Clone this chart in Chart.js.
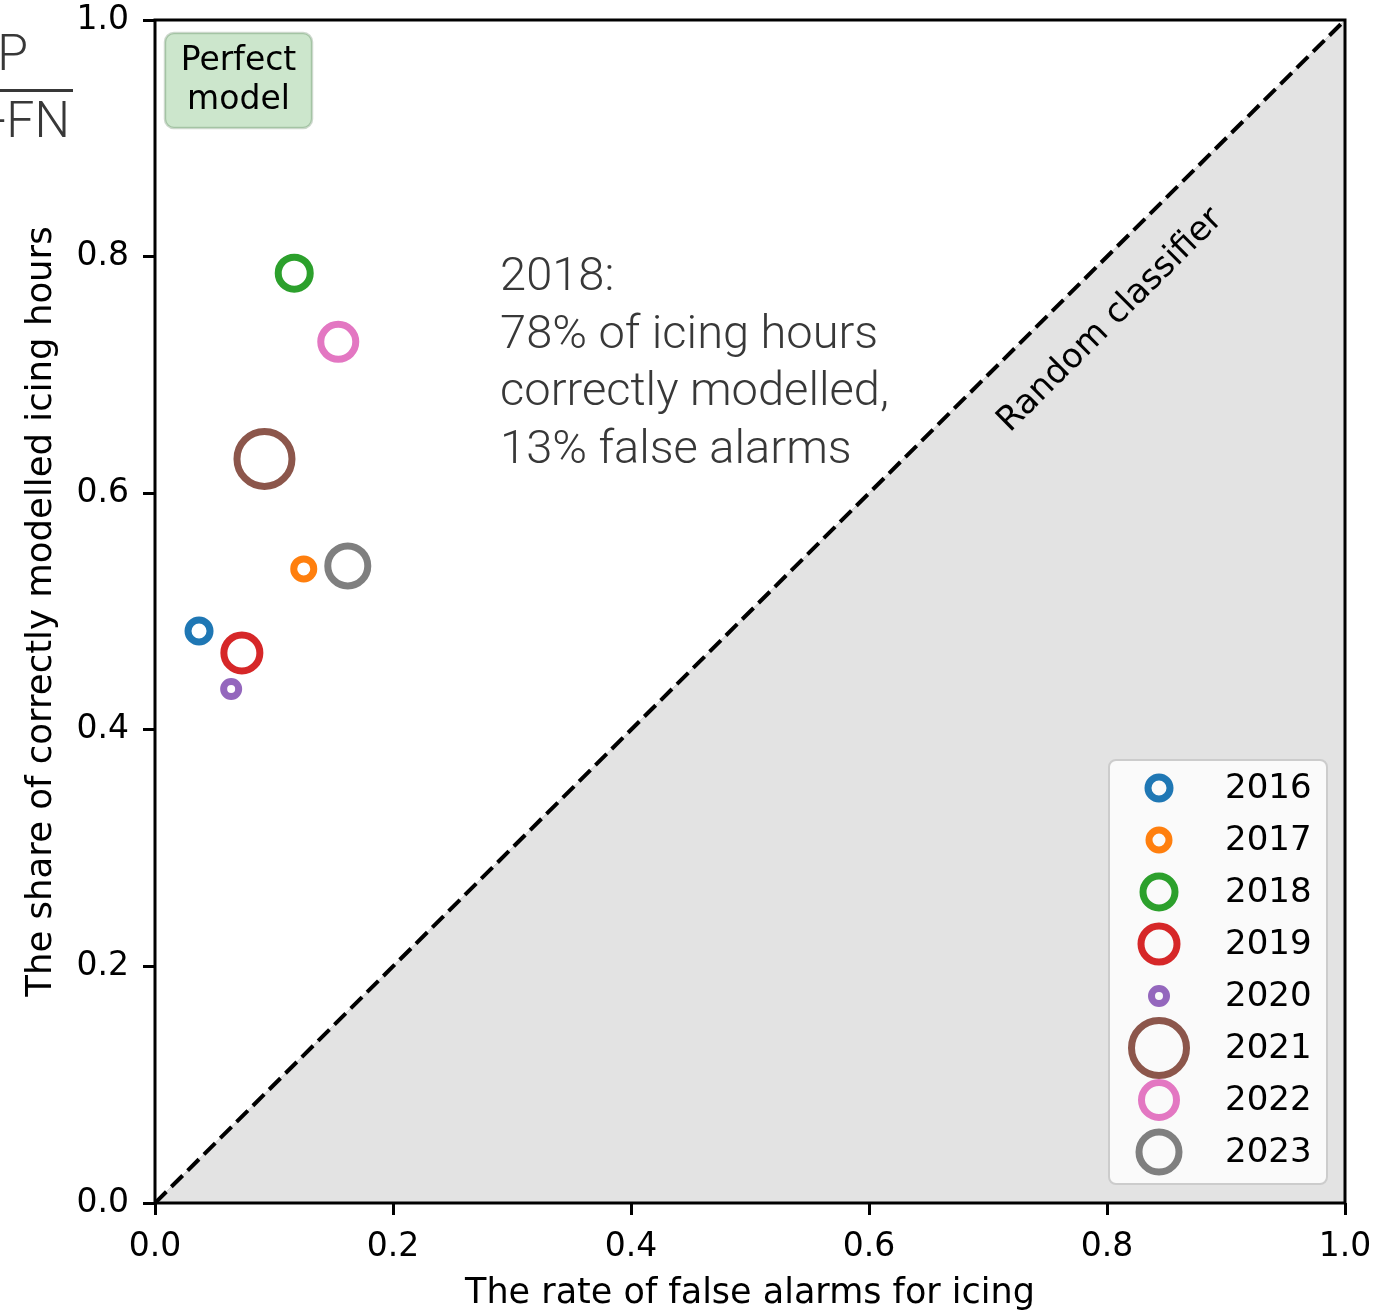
<!DOCTYPE html>
<html>
<head>
<meta charset="utf-8">
<script src="https://cdn.jsdelivr.net/npm/chart.js@4/dist/chart.umd.min.js"></script>
<style>
  html, body { margin: 0; padding: 0; background: #ffffff; }
  #wrap { width: 1384px; height: 1311px; position: relative; }
</style>
</head>
<body>
<div id="wrap"><canvas id="c" width="1384" height="1311"></canvas></div>
<script>
// ---------- data ----------
const years = ['2016', '2017', '2018', '2019', '2020', '2021', '2022', '2023'];
const falseAlarmRate = [0.037, 0.125, 0.117, 0.073, 0.064, 0.092, 0.154, 0.162];
const hitRate = [0.4835, 0.536, 0.786, 0.465, 0.4345, 0.629, 0.728, 0.5385];
const bubbleSize = [29, 27, 39, 43, 22, 62, 42, 47];
const tickValues = [0.0, 0.2, 0.4, 0.6, 0.8, 1.0];
const diagonalX = [0, 1];
const diagonalY = [0, 1];
const xTitle = 'The rate of false alarms for icing';
const yTitle = 'The share of correctly modelled icing hours';
const randomLabel = 'Random classifier';
const perfectLabel = ['Perfect', 'model'];
const annotationLines = ['2018:', '78% of icing hours', 'correctly modelled,', '13% false alarms'];
const fractionTop = 'TP';
const fractionBottom = 'TP+FN';

const colors = ['#1f77b4', '#ff7f0e', '#2ca02c', '#d62728', '#9467bd', '#8c564b', '#e377c2', '#7f7f7f'];
const RING = 7;
const FONT = '"DejaVu Sans", sans-serif';
const LIGHT = 'Roboto, "Liberation Sans", sans-serif';

const diagonal = diagonalX.map((x, i) => ({ x: x, y: diagonalY[i] }));

const datasets = [];
years.forEach((yr, i) => {
  datasets.push({
    label: yr,
    data: [{ x: falseAlarmRate[i], y: hitRate[i] }],
    pointRadius: bubbleSize[i] / 2 - RING / 2,
    pointHoverRadius: bubbleSize[i] / 2 - RING / 2,
    pointBorderWidth: RING,
    pointHoverBorderWidth: RING,
    borderWidth: RING,
    borderColor: colors[i],
    pointBorderColor: colors[i],
    backgroundColor: 'rgba(0,0,0,0)',
    pointBackgroundColor: 'rgba(0,0,0,0)',
    order: 0
  });
});
datasets.push({
  label: 'diag-dash',
  data: diagonal,
  showLine: true,
  pointRadius: 0,
  borderColor: '#000000',
  borderWidth: 4,
  borderDash: [16, 7],
  fill: false,
  order: 1
});
datasets.push({
  label: 'diag-fill',
  data: diagonal,
  showLine: true,
  pointRadius: 0,
  borderColor: '#d0d0d0',
  borderWidth: 1,
  backgroundColor: '#e3e3e3',
  fill: 'start',
  order: 2
});

function roundRect(ctx, x, y, w, h, r) {
  ctx.beginPath();
  ctx.moveTo(x + r, y);
  ctx.lineTo(x + w - r, y);
  ctx.arcTo(x + w, y, x + w, y + r, r);
  ctx.lineTo(x + w, y + h - r);
  ctx.arcTo(x + w, y + h, x + w - r, y + h, r);
  ctx.lineTo(x + r, y + h);
  ctx.arcTo(x, y + h, x, y + h - r, r);
  ctx.lineTo(x, y + r);
  ctx.arcTo(x, y, x + r, y, r);
  ctx.closePath();
}

const decor = {
  id: 'decor',
  afterDatasetsDraw(chart) {
    const { ctx, chartArea: a, scales } = chart;
    const xs = scales.x, ys = scales.y;
    ctx.save();

    // frame (spines)
    ctx.strokeStyle = '#000';
    ctx.lineWidth = 3;
    ctx.strokeRect(a.left, a.top, a.right - a.left, a.bottom - a.top);

    // Random classifier label
    const rx = xs.getPixelForValue(0.803), ry = ys.getPixelForValue(0.746);
    const ang = Math.atan2(ys.getPixelForValue(0) - ys.getPixelForValue(1), xs.getPixelForValue(1) - xs.getPixelForValue(0));
    ctx.translate(rx, ry);
    ctx.rotate(-ang);
    ctx.fillStyle = '#000';
    ctx.font = '34px ' + FONT;
    ctx.textAlign = 'center';
    ctx.textBaseline = 'middle';
    ctx.fillText(randomLabel, 0, 0);
    ctx.setTransform(1, 0, 0, 1, 0, 0);

    // Perfect model box
    const bx = a.left + 10, by = a.top + 13, bw = 147, bh = 95;
    roundRect(ctx, bx, by, bw, bh, 9);
    ctx.fillStyle = 'rgba(0,128,0,0.2)';
    ctx.fill();
    ctx.lineWidth = 2.5;
    ctx.strokeStyle = 'rgba(0,60,0,0.2)';
    ctx.stroke();
    ctx.fillStyle = '#000';
    ctx.font = '33px ' + FONT;
    ctx.textAlign = 'center';
    ctx.textBaseline = 'middle';
    ctx.fillText(perfectLabel[0], bx + bw / 2, by + 28);
    ctx.fillText(perfectLabel[1], bx + bw / 2, by + 67);

    // 2018 annotation
    ctx.fillStyle = '#383838';
    ctx.font = '300 47px ' + LIGHT;
    ctx.textAlign = 'left';
    ctx.textBaseline = 'middle';
    const ax = xs.getPixelForValue(0.29), ay = ys.getPixelForValue(0.785) + 4;
    annotationLines.forEach((t, i) => ctx.fillText(t, ax, ay + i * 57.5));

    // Legend
    const lw = 218, lh = 424;
    const lx = a.right - 18 - lw, ly = a.bottom - 19 - lh;
    roundRect(ctx, lx, ly, lw, lh, 7);
    ctx.fillStyle = 'rgba(255,255,255,0.8)';
    ctx.fill();
    ctx.lineWidth = 2;
    ctx.strokeStyle = '#cccccc';
    ctx.stroke();
    ctx.font = '34px ' + FONT;
    ctx.textAlign = 'left';
    ctx.textBaseline = 'middle';
    chart.data.datasets.forEach((ds, i) => {
      if (i >= years.length) return;
      const cy = ly + 28 + i * 52;
      const cx = lx + 50;
      ctx.beginPath();
      ctx.arc(cx, cy, ds.pointRadius, 0, Math.PI * 2);
      ctx.lineWidth = RING;
      ctx.strokeStyle = ds.borderColor;
      ctx.stroke();
      ctx.fillStyle = '#000';
      ctx.fillText(ds.label, lx + 116, cy + 1);
    });

    ctx.restore();
  },
  afterDraw(chart) {
    const { ctx } = chart;
    ctx.save();
    // cut-off fraction label at the far left
    ctx.fillStyle = '#383838';
    ctx.font = '300 50px ' + LIGHT;
    ctx.textAlign = 'right';
    ctx.textBaseline = 'alphabetic';
    ctx.fillText(fractionTop, 28, 70);
    ctx.fillText(fractionBottom, 70, 137);
    ctx.fillRect(0, 89, 73, 3);
    ctx.restore();
  }
};

const tickCfg = {
  color: '#000',
  font: { family: 'DejaVu Sans', size: 33 },
  callback: v => Number(v).toFixed(1)
};

new Chart(document.getElementById('c'), {
  type: 'scatter',
  data: { datasets },
  options: {
    responsive: false,
    animation: false,
    events: [],
    layout: { autoPadding: false, padding: { top: 20, right: 39, left: 0, bottom: 0 } },
    plugins: { legend: { display: false }, tooltip: { enabled: false }, title: { display: false } },
    scales: {
      x: {
        type: 'linear', min: 0, max: 1,
        afterBuildTicks: s => { s.ticks = tickValues.map(v => ({ value: v })); },
        afterFit: s => { s.height = 108; s.paddingLeft = 0; s.paddingRight = 0; },
        ticks: Object.assign({ padding: 13, maxRotation: 0, autoSkip: false }, tickCfg),
        grid: { drawOnChartArea: false, drawTicks: true, tickLength: 12, tickWidth: 3, tickColor: '#000' },
        border: { display: false },
        title: { display: true, text: xTitle, color: '#000', font: { family: 'DejaVu Sans', size: 35, lineHeight: 1.0 }, padding: { top: 0, bottom: 0 } }
      },
      y: {
        type: 'linear', min: 0, max: 1,
        afterBuildTicks: s => { s.ticks = tickValues.map(v => ({ value: v })); },
        afterFit: s => { s.width = 155; s.paddingTop = 0; s.paddingBottom = 0; },
        ticks: Object.assign({ padding: 14, autoSkip: false }, tickCfg),
        grid: { drawOnChartArea: false, drawTicks: true, tickLength: 12, tickWidth: 3, tickColor: '#000' },
        border: { display: false },
        title: { display: true, text: yTitle, color: '#000', font: { family: 'DejaVu Sans', size: 35.5 }, padding: { top: 20, bottom: 0 } }
      }
    }
  },
  plugins: [decor]
});
</script>
</body>
</html>
